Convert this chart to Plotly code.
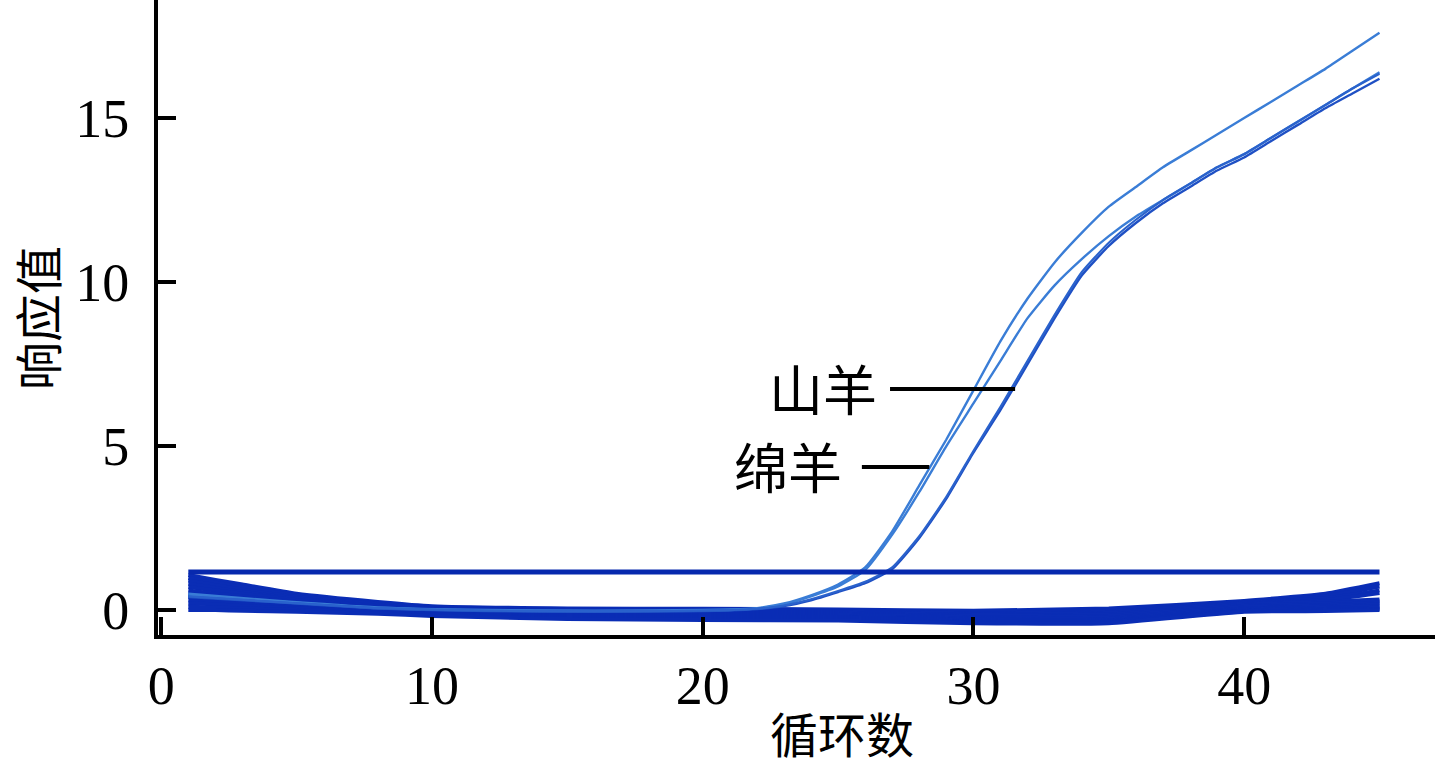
import plotly.graph_objects as go

# ---------------- data ----------------
amp_cycles = [1, 4, 8, 12, 16, 20, 21, 22, 23, 24, 25, 26, 27, 28, 29, 30, 31, 32, 33,
              34, 35, 36, 37, 38, 39, 40, 41, 42, 43, 44, 45]
goat_a = [0.5, 0.3, 0.08, 0.0, -0.02, 0.0, 0.02, 0.06, 0.2, 0.45, 0.78, 1.3, 2.4, 3.8, 5.2,
          6.7, 8.2, 9.5, 10.6, 11.5, 12.3, 12.9, 13.5, 14.0, 14.5, 15.0, 15.5, 16.0, 16.5, 17.05, 17.6]
goat_b = [0.45, 0.28, 0.06, -0.02, -0.04, -0.02, 0.0, 0.05, 0.17, 0.42, 0.72, 1.22, 2.3, 3.6, 5.0,
          6.3, 7.6, 8.9, 9.9, 10.7, 11.4, 12.0, 12.5, 13.0, 13.5, 13.9, 14.4, 14.9, 15.4, 15.9, 16.4]
sheep_c = [0.4, 0.25, 0.05, -0.03, -0.05, -0.03, -0.01, 0.03, 0.12, 0.3, 0.55, 0.82, 1.25, 2.2, 3.4,
           4.8, 6.1, 7.5, 8.9, 10.2, 11.1, 11.8, 12.4, 12.9, 13.4, 13.8, 14.3, 14.8, 15.3, 15.75, 16.2]
sheep_d = [0.42, 0.26, 0.06, -0.02, -0.04, -0.02, 0.0, 0.04, 0.14, 0.33, 0.58, 0.86, 1.3, 2.25, 3.45,
           4.85, 6.2, 7.6, 9.0, 10.3, 11.2, 11.9, 12.5, 13.0, 13.5, 13.9, 14.4, 14.9, 15.4, 15.9, 16.35]

base_cycles = [1, 2, 3, 5, 8, 10, 15, 20, 25, 30, 35, 40, 43, 45]
baselines = [
    [1.07, 0.92, 0.78, 0.5, 0.25, 0.12, 0.05, 0.04, 0.02, -0.02, 0.05, 0.28, 0.5, 0.82],
    [0.98, 0.84, 0.7, 0.45, 0.2, 0.08, 0.02, 0.0, -0.02, -0.06, 0.0, 0.25, 0.42, 0.72],
    [0.9, 0.76, 0.62, 0.4, 0.18, 0.06, 0.0, -0.03, -0.05, -0.1, -0.04, 0.22, 0.36, 0.6],
    [0.8, 0.67, 0.55, 0.35, 0.14, 0.04, -0.03, -0.06, -0.08, -0.14, -0.08, 0.2, 0.3, 0.52],
    [0.7, 0.6, 0.5, 0.3, 0.12, 0.02, -0.06, -0.09, -0.11, -0.18, -0.13, 0.17, 0.25, 0.32],
    [0.6, 0.5, 0.42, 0.25, 0.08, 0.0, -0.09, -0.12, -0.14, -0.22, -0.18, 0.13, 0.2, 0.27],
    [0.5, 0.42, 0.35, 0.2, 0.05, -0.03, -0.12, -0.15, -0.17, -0.26, -0.23, 0.09, 0.15, 0.22],
    [0.4, 0.35, 0.28, 0.15, 0.02, -0.06, -0.15, -0.18, -0.2, -0.29, -0.27, 0.05, 0.11, 0.17],
    [0.3, 0.25, 0.2, 0.1, -0.01, -0.09, -0.18, -0.21, -0.23, -0.32, -0.31, 0.02, 0.07, 0.12],
    [0.2, 0.18, 0.12, 0.05, -0.05, -0.12, -0.21, -0.24, -0.26, -0.35, -0.34, -0.01, 0.03, 0.07],
    [0.1, 0.08, 0.05, 0.0, -0.08, -0.15, -0.24, -0.27, -0.29, -0.37, -0.37, -0.03, 0.0, 0.03],
    [0.0, 0.0, -0.02, -0.05, -0.11, -0.18, -0.27, -0.3, -0.32, -0.4, -0.4, -0.05, -0.03, 0.0],
]

threshold_cycles = [1, 45]
threshold_value = [1.16, 1.16]

x_ticks = [0, 10, 20, 30, 40]
y_ticks = [0, 5, 10, 15]
x_title = "循环数"
y_title = "响应值"
label_goat = "山羊"
label_sheep = "绵羊"

# label positions (data units)
goat_text_pos = (24.45, 6.8)
goat_line = (26.92, 31.54, 6.74)
sheep_text_pos = (23.15, 4.42)
sheep_line = (25.88, 28.37, 4.36)

# ---------------- figure ----------------
fig = go.Figure()

BAND = "#0a2db5"
for ys in baselines:
    fig.add_trace(go.Scatter(x=base_cycles, y=ys, mode="lines",
                             line=dict(color=BAND, width=4, shape="spline", smoothing=0.4),
                             hoverinfo="skip", showlegend=False))

for ys, col, w in [(goat_a, "#3a7dd6", 2.4), (goat_b, "#3a7dd6", 2.4),
                   (sheep_c, "#1f50c4", 2.4), (sheep_d, "#2a62cc", 2.2)]:
    fig.add_trace(go.Scatter(x=amp_cycles, y=ys, mode="lines",
                             line=dict(color=col, width=w, shape="spline", smoothing=0.5),
                             hoverinfo="skip", showlegend=False))

fig.add_trace(go.Scatter(x=threshold_cycles, y=threshold_value, mode="lines",
                         line=dict(color="#0729ae", width=5),
                         hoverinfo="skip", showlegend=False))

tick_font = dict(family="Liberation Serif, Times New Roman, serif", size=54, color="black")
cjk_font = dict(family="Noto Sans CJK SC", size=54, color="black")
title_font = dict(family="Noto Sans CJK SC", size=48, color="black")

fig.update_layout(
    width=1438, height=768,
    margin=dict(l=158, r=3, t=0, b=133),
    paper_bgcolor="white", plot_bgcolor="white",
    showlegend=False,
    xaxis=dict(range=[-0.12, 47.05], tickvals=x_ticks, ticktext=[str(v) for v in x_ticks],
               showline=True, linewidth=4, linecolor="black", mirror=False,
               ticks="inside", ticklen=18, tickwidth=4, tickcolor="black",
               showgrid=False, zeroline=False, tickfont=tick_font),
    yaxis=dict(range=[-0.76, 18.6], tickvals=y_ticks, ticktext=[str(v) for v in y_ticks],
               showline=True, linewidth=4, linecolor="black", mirror=False,
               ticks="inside", ticklen=18, tickwidth=4, tickcolor="black",
               ticklabelstandoff=14,
               showgrid=False, zeroline=False, tickfont=tick_font),
)

# axis titles as annotations for precise placement
fig.add_annotation(text=x_title, xref="paper", yref="paper", x=0.536, y=-0.152,
                   xanchor="center", yanchor="middle", showarrow=False, font=title_font)
fig.add_annotation(text=y_title, xref="paper", yref="paper", x=-0.096, y=0.5,
                   xanchor="center", yanchor="middle", showarrow=False, font=title_font,
                   textangle=-90)

# curve labels
fig.add_annotation(text=label_goat, x=goat_text_pos[0], y=goat_text_pos[1], xref="x", yref="y",
                   showarrow=False, font=cjk_font, xanchor="center", yanchor="middle")
fig.add_annotation(text=label_sheep, x=sheep_text_pos[0], y=sheep_text_pos[1], xref="x", yref="y",
                   showarrow=False, font=cjk_font, xanchor="center", yanchor="middle")
fig.add_shape(type="line", x0=goat_line[0], x1=goat_line[1], y0=goat_line[2], y1=goat_line[2],
              xref="x", yref="y", line=dict(color="black", width=4))
fig.add_shape(type="line", x0=sheep_line[0], x1=sheep_line[1], y0=sheep_line[2], y1=sheep_line[2],
              xref="x", yref="y", line=dict(color="black", width=4))

fig.write_html("out.html", config={"displayModeBar": False},
               post_script="document.body.style.margin='0px';document.body.style.padding='0px';")
